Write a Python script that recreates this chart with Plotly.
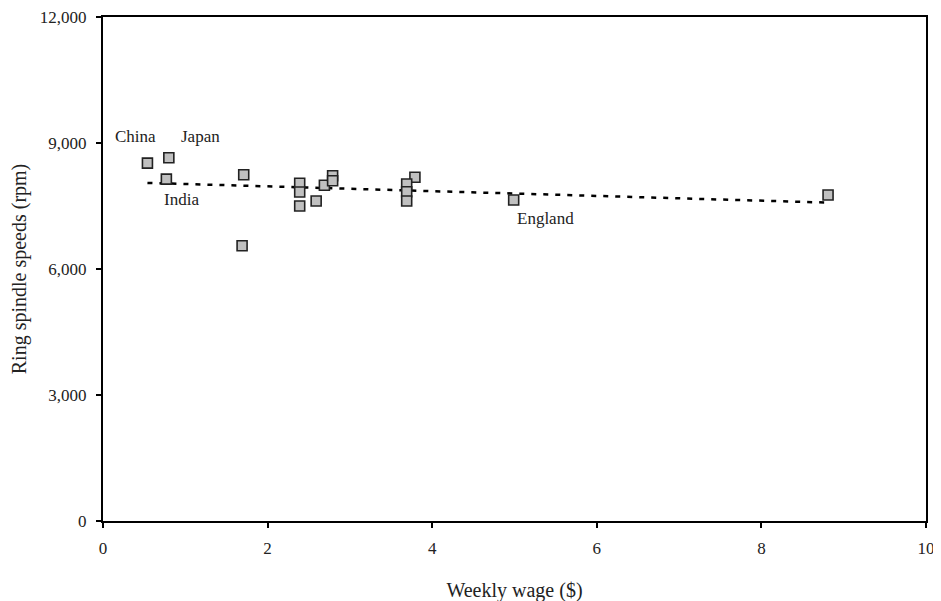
import numpy as np
import plotly.graph_objects as go

# Data
wage = [0.54, 0.80, 0.77, 1.71, 1.69, 2.39, 2.39, 2.39, 2.59, 2.69, 2.79, 2.79,
        3.79, 3.69, 3.69, 3.69, 4.99, 8.81]
speed = [8520, 8650, 8140, 8245, 6555, 8040, 7833, 7500, 7620, 7993, 8221, 8102,
         8183, 8024, 7841, 7620, 7643, 7762]

label_names = ["China", "Japan", "India", "England"]
label_x = [0.39, 1.18, 0.95, 5.38]
label_y = [9143, 9143, 7643, 7214]

x_ticks = [0, 2, 4, 6, 8, 10]
y_ticks = [0, 3000, 6000, 9000, 12000]

# Linear trend fit across the data range
coef = np.polyfit(wage, speed, 1)
tx = np.array([min(wage), max(wage)])
ty = np.polyval(coef, tx)

font_family = "Liberation Serif, Times New Roman, serif"

fig = go.Figure()
fig.add_trace(go.Scatter(
    x=tx, y=ty, mode="lines",
    line=dict(color="black", width=2.5, dash="5px,7px"),
    showlegend=False, hoverinfo="skip"))
fig.add_trace(go.Scatter(
    x=wage, y=speed, mode="markers",
    marker=dict(symbol="square", size=10, color="#c0c0c0",
                line=dict(color="#222222", width=1.6)),
    showlegend=False))

for name, lx, ly in zip(label_names, label_x, label_y):
    fig.add_annotation(x=lx, y=ly, text=name, showarrow=False,
                       font=dict(family=font_family, size=17, color="#222222"))

fig.update_layout(
    width=941, height=601,
    margin=dict(l=95, r=23, t=9, b=88, autoexpand=False),
    plot_bgcolor="white", paper_bgcolor="white",
    font=dict(family=font_family, size=17, color="#222222"),
)
fig.update_xaxes(
    range=[0, 10], tickvals=x_ticks, showgrid=False, zeroline=False,
    showline=True, linecolor="black", linewidth=2, mirror=True,
    ticks="outside", ticklen=5, tickwidth=2, tickcolor="black",
    ticklabelstandoff=6, automargin=False, ticklabeloverflow="allow",
    title=dict(text="Weekly wage ($)", standoff=26),
)
fig.update_yaxes(
    range=[0, 12000], tickvals=y_ticks, tickformat=",", showgrid=False,
    zeroline=False, showline=True, linecolor="black", linewidth=2, mirror=True,
    ticks="outside", ticklen=5, tickwidth=2, tickcolor="black",
    ticklabelstandoff=6, automargin=False, ticklabeloverflow="allow",
    title=dict(text="Ring spindle speeds (rpm)", standoff=18),
)

fig.write_html("out.html")
